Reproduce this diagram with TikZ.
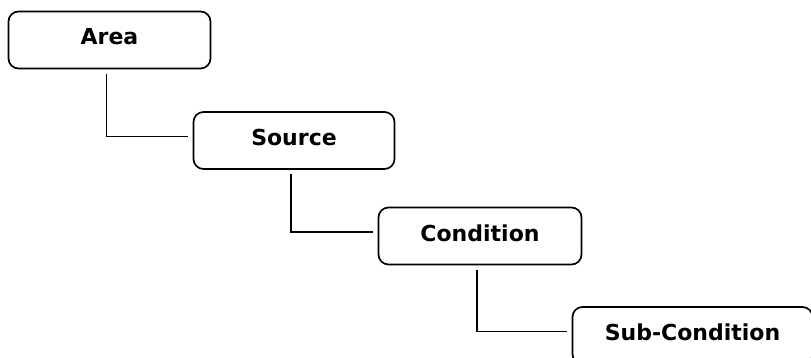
\documentclass[tikz,border=0pt]{standalone}
\usepackage{fontspec}
\setmainfont{DejaVu Sans}
\usetikzlibrary{calc}

\begin{document}
\begin{tikzpicture}[x=1pt,y=-1pt,
  level/.style={draw, line width=1.7pt, rounded corners=10pt, minimum height=57pt,
    inner sep=0pt, text height=16pt, text depth=6pt,
    font=\fontsize{22}{26}\selectfont\bfseries},
  link/.style={line width=1.6pt}]
\def\GAP{4.5pt};\def\DX{3pt};\def\DY{4pt};
\useasboundingbox (0,0) rectangle (811,358);
\fill[white] (0,0) rectangle (811,358);
\clip (0,0) rectangle (811,358);
% the four levels
\node[level, minimum width=202pt] (area) at (109.5,40) {Area};
\node[level, minimum width=201pt] (source) at (294,140.5) {Source};
\node[level, minimum width=203pt] (condition) at (480,236) {Condition};
\node[level, minimum width=240pt] (subcondition) at (692.5,335.5) {Sub-Condition};
% elbow links
\draw[link] ([xshift=-\DX,yshift=-\GAP]area.south) |- ([xshift=-\GAP,yshift=\DY]source.west);
\draw[link] ([xshift=-\DX,yshift=-\GAP]source.south) |- ([xshift=-\GAP,yshift=\DY]condition.west);
\draw[link] ([xshift=-\DX,yshift=-\GAP]condition.south) |- ([xshift=-\GAP,yshift=\DY]subcondition.west);
\end{tikzpicture}
\end{document}
